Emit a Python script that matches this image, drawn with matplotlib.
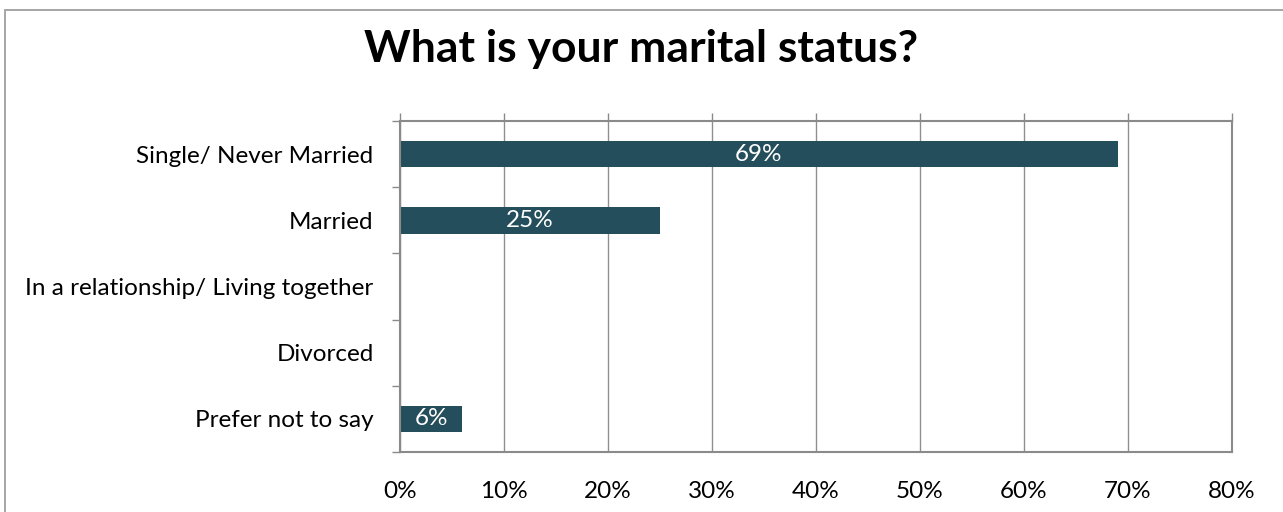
import matplotlib
matplotlib.use("Agg")
import matplotlib.pyplot as plt
from matplotlib.patches import Rectangle
from matplotlib.ticker import FixedLocator, PercentFormatter

categories = [
    "Single/ Never Married",
    "Married",
    "In a relationship/ Living together",
    "Divorced",
    "Prefer not to say",
]
values = [69, 25, 0, 0, 6]
x_ticks = [0, 10, 20, 30, 40, 50, 60, 70, 80]

title = "What is your marital status?"
bar_color = "#244e5c"
axis_gray = "#8a8a8a"
grid_gray = "#8f8f8f"

plt.rcParams["font.family"] = ["Lato", "DejaVu Sans"]

W, H, DPI = 1283, 512, 100
fig = plt.figure(figsize=(W / DPI, H / DPI), dpi=DPI)

# chart-area frame (continues past the right and bottom edges)
fig.patches.append(Rectangle((4.5 / W, -1), 2, 2 - 9.5 / H, transform=fig.transFigure,
                             fill=False, edgecolor="#a6a6a6", linewidth=1.4))

left, right, top, bottom = 400, 1232, 121, 452
ax = fig.add_axes([left / W, 1 - bottom / H, (right - left) / W, (bottom - top) / H])

n = len(categories)
pos = list(range(n))
bars = ax.barh(pos, values, height=0.4, color=bar_color, zorder=3)
ax.set_ylim(n - 0.5, -0.5)
ax.set_xlim(0, 80)

fs = 17.5
for b, v in zip(bars, values):
    if v > 0:
        ax.text(b.get_width() / 2, b.get_y() + b.get_height() / 2, f"{v}%",
                color="white", ha="center", va="center", fontsize=fs, zorder=4)

ax.set_xticks(x_ticks)
ax.xaxis.set_major_formatter(PercentFormatter(decimals=0))
ax.tick_params(axis="x", top=True, bottom=False, labeltop=False, labelbottom=True,
               direction="out", length=6, width=1, color=axis_gray, pad=15,
               labelsize=fs, labelcolor="black")
ax.grid(axis="x", color=grid_gray, linewidth=1.0, zorder=1)

ax.set_yticks(pos)
ax.set_yticklabels(categories)
ax.yaxis.set_minor_locator(FixedLocator([p - 0.5 for p in pos] + [n - 0.5]))
ax.tick_params(axis="y", which="major", length=0, pad=19, labelsize=fs, labelcolor="black")
ax.tick_params(axis="y", which="minor", length=6, width=1, color=axis_gray, direction="out")

for s in ax.spines.values():
    s.set_color(axis_gray)
    s.set_linewidth(1.5)
    s.set_zorder(5)

fig.text(0.5, 1 - 49 / H, title, ha="center", va="center", fontsize=32, fontweight="bold")

fig.savefig("out.png", dpi=DPI)
